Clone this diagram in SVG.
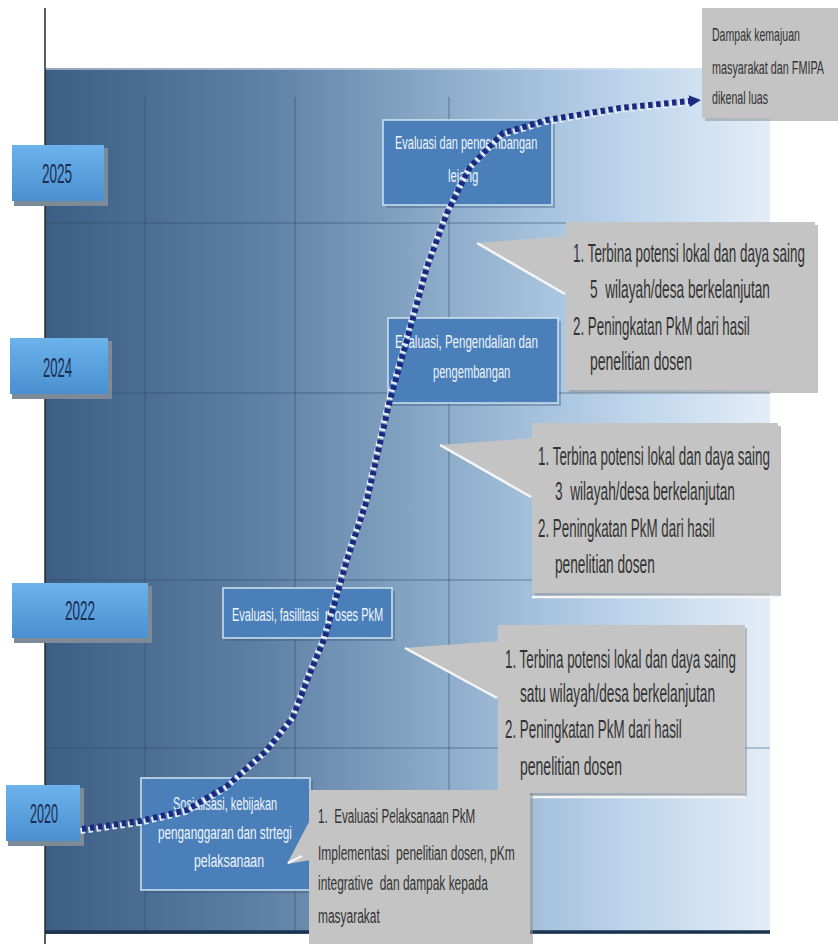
<svg xmlns="http://www.w3.org/2000/svg" width="838" height="944" viewBox="0 0 838 944">
<defs>
<linearGradient id="bg" x1="0" y1="0" x2="1" y2="0">
<stop offset="0" stop-color="#3d5e84"/>
<stop offset="0.3" stop-color="#5e80a4"/>
<stop offset="0.55" stop-color="#8dacca"/>
<stop offset="0.8" stop-color="#bcd4eb"/>
<stop offset="1" stop-color="#e3edf7"/>
</linearGradient>
<linearGradient id="yr" x1="0" y1="0" x2="0" y2="1">
<stop offset="0" stop-color="#6cb3ec"/>
<stop offset="1" stop-color="#4a8fd0"/>
</linearGradient>
<marker id="ah" markerWidth="12" markerHeight="12" refX="1" refY="6" orient="auto" markerUnits="userSpaceOnUse">
<path d="M0,0 L12,6 L0,12 z" fill="#1b2a80"/>
</marker>
</defs>
<style>
text{font-family:"Liberation Sans",Arial,sans-serif}
.yt{font-size:27px;fill:#1c2d50}
.bt{font-size:19px;fill:#eef4fb}
.ct{font-size:26px;fill:#333333}
.st{font-size:20px;fill:#333333}
.rt{font-size:19px;fill:#333333}
.yb{fill:url(#yr)}
.ys{fill:#7d8a97}
.blue{fill:#4a7fb9;stroke:#d3e3f2;stroke-width:1.5}
.bsh{fill:#2d4f75;opacity:0.35}
.gray{fill:#c4c4c4}
.gsh{fill:#8f8f8f;opacity:0.55}
.grid{stroke:#2c4968;stroke-width:1;opacity:0.55}
.hl{stroke:#f4f6f8;stroke-width:2.5}
</style>

<rect x="45" y="68" width="725" height="866" fill="url(#bg)"/>
<line x1="45" y1="69" x2="770" y2="69" stroke="#dfe8f2" stroke-width="1.5" opacity="0.7"/>
<g id="grid">
<line class="grid" x1="145" y1="97" x2="145" y2="932"/>
<line class="grid" x1="295" y1="97" x2="295" y2="932"/>
<line class="grid" x1="449" y1="97" x2="449" y2="932"/>
<line class="grid" x1="45" y1="223" x2="770" y2="223" stroke-width="2"/>
<line class="grid" x1="45" y1="393" x2="770" y2="393" stroke-width="2"/>
<line class="grid" x1="45" y1="580" x2="770" y2="580" stroke-width="2"/>
<line class="grid" x1="45" y1="748" x2="770" y2="748" stroke-width="2"/>
</g>
<line x1="45" y1="932" x2="770" y2="932" stroke="#1c334f" stroke-width="3.5"/>
<line x1="45" y1="8" x2="45" y2="944" stroke="#2a2a2a" stroke-width="1.5"/>

<g id="y2025">
<rect class="ys" x="14" y="148" width="94" height="58"/>
<rect class="yb" x="12" y="145" width="92" height="56"/>
<text class="yt" transform="translate(42,183) scale(0.52,1)" textLength="58" lengthAdjust="spacingAndGlyphs">2025</text>
</g>
<g id="y2024">
<rect class="ys" x="12" y="341" width="100" height="58"/>
<rect class="yb" x="10" y="338" width="98" height="56"/>
<text class="yt" transform="translate(43,377) scale(0.52,1)" textLength="56" lengthAdjust="spacingAndGlyphs">2024</text>
</g>
<g id="y2022">
<rect class="ys" x="14" y="586" width="138" height="57"/>
<rect class="yb" x="12" y="583" width="136" height="55"/>
<text class="yt" transform="translate(65,620) scale(0.52,1)" textLength="58" lengthAdjust="spacingAndGlyphs">2022</text>
</g>
<g id="y2020">
<rect class="ys" x="8" y="788" width="76" height="58"/>
<rect class="yb" x="6" y="785" width="74" height="56"/>
<text class="yt" transform="translate(30,823) scale(0.52,1)" textLength="54" lengthAdjust="spacingAndGlyphs">2020</text>
</g>

<g id="boxA">
<rect class="bsh" x="386" y="123" width="169" height="85"/>
<rect class="blue" x="383" y="120" width="169" height="85"/>
<text class="bt" transform="translate(395,149) scale(0.56,1)" textLength="254" lengthAdjust="spacingAndGlyphs">Evaluasi dan pengembangan</text>
<text class="bt" transform="translate(448,182) scale(0.56,1)" textLength="54" lengthAdjust="spacingAndGlyphs">lejang</text>
</g>
<g id="boxB">
<rect class="bsh" x="391" y="321" width="170" height="85"/>
<rect class="blue" x="388" y="318" width="170" height="85"/>
<text class="bt" transform="translate(395,348) scale(0.56,1)" textLength="255" lengthAdjust="spacingAndGlyphs">Evaluasi, Pengendalian dan</text>
<text class="bt" transform="translate(433,378) scale(0.56,1)" textLength="138" lengthAdjust="spacingAndGlyphs">pengembangan</text>
</g>
<g id="boxC">
<rect class="bsh" x="226" y="591" width="169" height="50"/>
<rect class="blue" x="223" y="588" width="169" height="50"/>
<text class="bt" xml:space="preserve" transform="translate(232,621) scale(0.56,1)" textLength="270" lengthAdjust="spacingAndGlyphs">Evaluasi, fasilitasi  proses PkM</text>
</g>
<g id="boxD">
<rect class="bsh" x="144" y="781" width="169" height="112"/>
<rect class="blue" x="141" y="778" width="169" height="112"/>
<text class="bt" transform="translate(173,810) scale(0.56,1)" textLength="186" lengthAdjust="spacingAndGlyphs">Sosialisasi, kebijakan</text>
<text class="bt" transform="translate(158,839) scale(0.56,1)" textLength="239" lengthAdjust="spacingAndGlyphs">penganggaran dan strtegi</text>
<text class="bt" transform="translate(194,867) scale(0.56,1)" textLength="125" lengthAdjust="spacingAndGlyphs">pelaksanaan</text>
</g>

<g id="outcome">
<rect class="gsh" x="705" y="11" width="133" height="110"/>
<rect class="gray" x="702" y="8" width="136" height="110"/>
<text class="rt" transform="translate(712,41) scale(0.56,1)" textLength="157" lengthAdjust="spacingAndGlyphs">Dampak kemajuan</text>
<text class="rt" transform="translate(712,74) scale(0.56,1)" textLength="200" lengthAdjust="spacingAndGlyphs">masyarakat dan FMIPA</text>
<text class="rt" transform="translate(712,104) scale(0.56,1)" textLength="100" lengthAdjust="spacingAndGlyphs">dikenal luas</text>
</g>
<g id="callout2025">
<rect class="gsh" x="569" y="225" width="249" height="168"/>
<polygon class="gray" points="477,243 567,236 567,295"/>
<line class="hl" x1="477" y1="243" x2="565" y2="294"/>
<rect class="gray" x="566" y="222" width="249" height="168"/>
<text class="ct" transform="translate(573,262) scale(0.52,1)" textLength="446" lengthAdjust="spacingAndGlyphs">1. Terbina potensi lokal dan daya saing</text>
<text class="ct" xml:space="preserve" transform="translate(590,298) scale(0.52,1)" textLength="346" lengthAdjust="spacingAndGlyphs">5  wilayah/desa berkelanjutan</text>
<text class="ct" transform="translate(573,335) scale(0.52,1)" textLength="340" lengthAdjust="spacingAndGlyphs">2. Peningkatan PkM dari hasil</text>
<text class="ct" transform="translate(590,370) scale(0.52,1)" textLength="196" lengthAdjust="spacingAndGlyphs">penelitian dosen</text>
</g>
<g id="callout2024">
<rect class="gsh" x="535" y="426" width="246" height="170"/>
<polygon class="gray" points="440,445 533,438 533,498"/>
<line class="hl" x1="440" y1="445" x2="531" y2="497"/>
<rect class="gray" x="532" y="423" width="246" height="170"/>
<line class="hl" x1="532" y1="597" x2="778" y2="597"/>
<text class="ct" transform="translate(538,465) scale(0.52,1)" textLength="446" lengthAdjust="spacingAndGlyphs">1. Terbina potensi lokal dan daya saing</text>
<text class="ct" xml:space="preserve" transform="translate(555,500) scale(0.52,1)" textLength="346" lengthAdjust="spacingAndGlyphs">3  wilayah/desa berkelanjutan</text>
<text class="ct" transform="translate(538,537) scale(0.52,1)" textLength="340" lengthAdjust="spacingAndGlyphs">2. Peningkatan PkM dari hasil</text>
<text class="ct" transform="translate(555,573) scale(0.52,1)" textLength="192" lengthAdjust="spacingAndGlyphs">penelitian dosen</text>
</g>
<g id="callout2022">
<rect class="gsh" x="500" y="628" width="247" height="168"/>
<polygon class="gray" points="405,648 499,641 499,699"/>
<line class="hl" x1="405" y1="648" x2="497" y2="698"/>
<rect class="gray" x="498" y="625" width="247" height="168"/>
<line class="hl" x1="498" y1="797" x2="745" y2="797"/>
<text class="ct" transform="translate(505,668) scale(0.52,1)" textLength="444" lengthAdjust="spacingAndGlyphs">1. Terbina potensi lokal dan daya saing</text>
<text class="ct" transform="translate(520,702) scale(0.52,1)" textLength="375" lengthAdjust="spacingAndGlyphs">satu wilayah/desa berkelanjutan</text>
<text class="ct" transform="translate(505,738) scale(0.52,1)" textLength="340" lengthAdjust="spacingAndGlyphs">2. Peningkatan PkM dari hasil</text>
<text class="ct" transform="translate(520,775) scale(0.52,1)" textLength="196" lengthAdjust="spacingAndGlyphs">penelitian dosen</text>
</g>
<g id="callout2020">
<rect class="gsh" x="312" y="793" width="221" height="151"/>
<polygon class="gray" points="287,864 311,818 311,860"/>
<line class="hl" x1="288" y1="863" x2="302" y2="856"/>
<rect class="gray" x="309" y="790" width="221" height="154"/>
<text class="st" xml:space="preserve" transform="translate(318,823) scale(0.6,1)" textLength="262" lengthAdjust="spacingAndGlyphs">1.  Evaluasi Pelaksanaan PkM</text>
<text class="st" xml:space="preserve" transform="translate(318,860) scale(0.6,1)" textLength="328" lengthAdjust="spacingAndGlyphs">Implementasi  penelitian dosen, pKm</text>
<text class="st" xml:space="preserve" transform="translate(318,890) scale(0.6,1)" textLength="283" lengthAdjust="spacingAndGlyphs">integrative  dan dampak kepada</text>
<text class="st" transform="translate(318,923) scale(0.6,1)" textLength="103" lengthAdjust="spacingAndGlyphs">masyarakat</text>
</g>

<g id="connectors" fill="none" stroke-width="6" stroke-dasharray="4.5 3.5" stroke-linejoin="round">
<path transform="translate(-1.5,2)" stroke="#e6eef8" d="M82,829 L140,821 L187,810 L227,786 L267,750 L293,717 L310,673 L325,637 L347,560 L367,500 L390,400 L407,340 L427,267 L447,213 L470,167 L503,133 L547,120 L620,108 L690,101"/>
<path stroke="#1b2a80" marker-end="url(#ah)" d="M82,829 L140,821 L187,810 L227,786 L267,750 L293,717 L310,673 L325,637 L347,560 L367,500 L390,400 L407,340 L427,267 L447,213 L470,167 L503,133 L547,120 L620,108 L690,101"/>
</g>
</svg>
